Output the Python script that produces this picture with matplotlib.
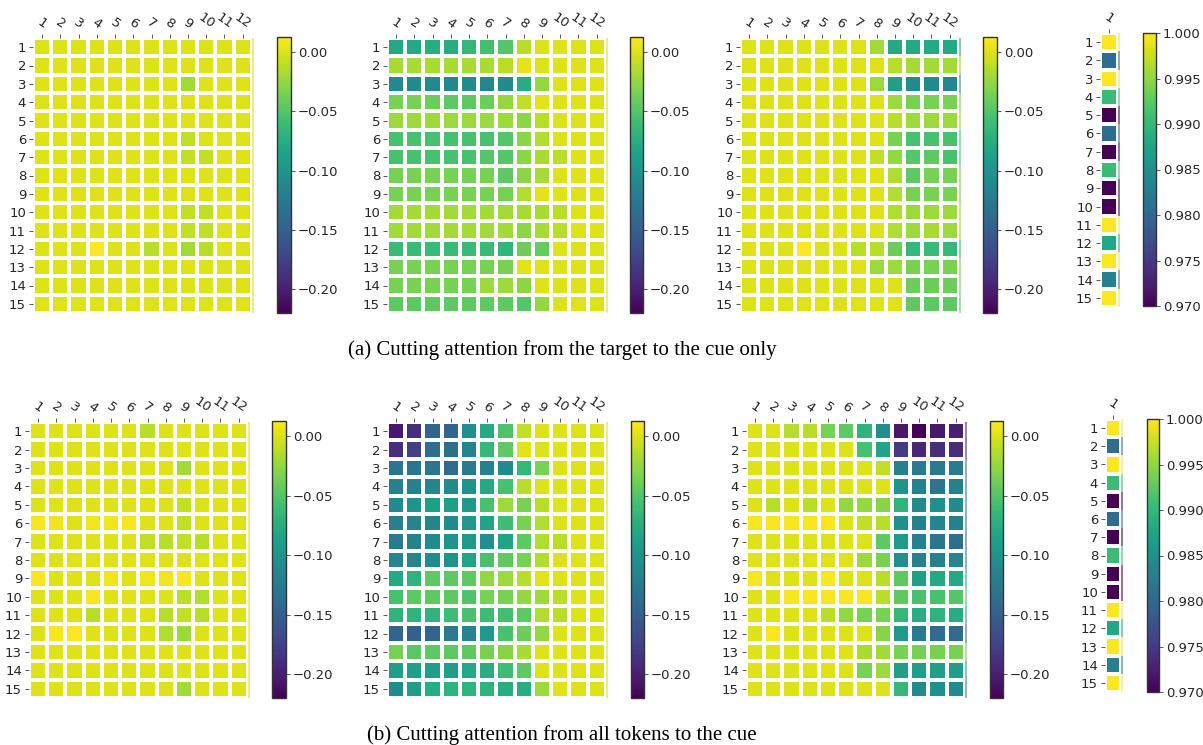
import numpy as np
import matplotlib
matplotlib.use("Agg")
from matplotlib import pyplot as plt
from matplotlib.colors import Normalize

# DATA
layers = [str(i) for i in range(1, 13)]
positions = [str(i) for i in range(1, 16)]
head_label = ["1"]

# (a) cutting attention from the target to the cue only
a_first = [
    [0.000, 0.000, 0.000, 0.000, 0.000, 0.000, 0.000, 0.000, 0.000, 0.000, 0.000, 0.000],
    [0.000, 0.000, 0.000, 0.000, 0.000, 0.000, 0.000, 0.000, 0.000, 0.000, 0.000, 0.000],
    [0.000, 0.000, 0.000, 0.000, 0.000, 0.000, 0.000, 0.000, -0.020, 0.000, 0.000, 0.000],
    [0.000, 0.000, 0.000, 0.000, 0.000, 0.000, 0.000, 0.000, 0.000, 0.000, 0.000, 0.000],
    [0.000, 0.000, 0.000, 0.000, 0.000, 0.000, 0.000, 0.000, 0.000, 0.000, 0.000, 0.000],
    [0.000, 0.000, 0.000, 0.000, 0.000, 0.000, 0.000, 0.000, -0.010, 0.000, 0.000, 0.000],
    [0.000, 0.000, 0.000, 0.000, 0.000, 0.000, 0.000, 0.000, -0.010, -0.010, 0.000, 0.000],
    [0.000, 0.000, 0.000, 0.000, 0.000, 0.000, 0.000, 0.000, 0.000, 0.000, 0.000, 0.000],
    [0.000, 0.000, 0.000, 0.000, 0.000, 0.000, 0.000, 0.000, 0.000, 0.000, 0.000, 0.000],
    [0.000, 0.000, 0.000, 0.000, 0.000, 0.000, 0.000, 0.000, -0.010, -0.010, 0.000, 0.000],
    [0.000, 0.000, 0.000, 0.000, 0.000, 0.000, 0.000, 0.000, -0.010, -0.010, 0.000, 0.000],
    [0.000, 0.000, 0.000, 0.012, 0.000, 0.000, -0.012, 0.000, -0.020, -0.012, 0.000, 0.000],
    [0.000, 0.000, 0.000, 0.000, 0.000, 0.000, 0.000, 0.000, 0.000, 0.000, 0.000, 0.000],
    [0.000, 0.000, 0.000, 0.000, 0.000, 0.000, 0.000, 0.000, 0.000, 0.000, 0.000, 0.000],
    [0.000, 0.000, 0.000, 0.000, 0.000, 0.000, 0.000, 0.000, 0.000, 0.000, 0.000, 0.000],
]
a_second = [
    [-0.080, -0.080, -0.075, -0.075, -0.065, -0.058, -0.050, -0.012, 0.000, 0.000, 0.000, 0.000],
    [-0.018, -0.018, -0.018, -0.018, -0.018, -0.018, -0.012, 0.003, 0.000, 0.000, 0.000, 0.000],
    [-0.110, -0.110, -0.110, -0.112, -0.110, -0.112, -0.110, -0.075, -0.025, 0.000, 0.000, 0.000],
    [-0.035, -0.035, -0.040, -0.045, -0.045, -0.040, -0.025, -0.010, 0.002, 0.000, 0.000, 0.000],
    [-0.022, -0.022, -0.022, -0.022, -0.022, -0.022, -0.022, -0.028, -0.012, 0.000, 0.000, 0.000],
    [-0.055, -0.055, -0.055, -0.055, -0.055, -0.055, -0.050, -0.028, -0.015, 0.000, 0.000, 0.000],
    [-0.055, -0.055, -0.055, -0.055, -0.055, -0.050, -0.050, -0.028, -0.018, -0.012, 0.000, 0.000],
    [-0.035, -0.035, -0.035, -0.035, -0.035, -0.035, -0.045, -0.028, -0.018, 0.000, 0.000, 0.000],
    [-0.035, -0.035, -0.035, -0.035, -0.035, -0.035, -0.035, -0.015, 0.002, 0.000, 0.000, 0.000],
    [-0.020, -0.020, -0.020, -0.020, -0.020, -0.020, -0.020, -0.018, -0.018, -0.012, 0.000, 0.000],
    [-0.020, -0.020, -0.020, -0.020, -0.020, -0.020, -0.020, -0.028, -0.018, -0.012, 0.000, 0.000],
    [-0.062, -0.062, -0.062, -0.062, -0.062, -0.062, -0.068, -0.040, -0.042, 0.000, 0.000, 0.000],
    [-0.035, -0.035, -0.035, -0.035, -0.035, -0.035, -0.035, 0.002, 0.000, 0.000, 0.000, 0.000],
    [-0.035, -0.035, -0.035, -0.035, -0.035, -0.022, -0.022, -0.028, 0.000, 0.000, 0.000, 0.000],
    [-0.045, -0.045, -0.045, -0.045, -0.045, -0.045, -0.045, -0.050, -0.025, 0.000, 0.000, 0.000],
]
a_third = [
    [0.000, 0.000, 0.000, 0.000, 0.000, 0.000, 0.000, -0.020, -0.080, -0.080, -0.080, -0.080],
    [0.000, 0.000, 0.000, 0.000, 0.000, 0.000, 0.000, 0.000, -0.012, -0.020, -0.020, -0.020],
    [0.000, 0.000, 0.000, 0.000, 0.000, 0.000, 0.000, -0.022, -0.090, -0.110, -0.110, -0.112],
    [0.000, 0.000, 0.000, 0.000, 0.000, 0.000, 0.000, 0.000, -0.022, -0.035, -0.035, -0.035],
    [0.000, 0.000, 0.000, 0.000, 0.000, 0.000, 0.000, 0.000, -0.012, -0.022, -0.022, -0.022],
    [0.000, 0.000, 0.000, 0.000, 0.000, 0.000, 0.000, 0.000, -0.035, -0.055, -0.055, -0.055],
    [0.000, 0.000, 0.000, 0.000, 0.000, 0.000, 0.000, -0.010, -0.025, -0.050, -0.045, -0.055],
    [0.000, 0.000, 0.000, 0.000, 0.000, 0.000, 0.000, 0.000, -0.015, -0.045, -0.035, -0.035],
    [0.000, 0.000, 0.000, 0.000, 0.000, 0.000, 0.000, 0.000, -0.015, -0.035, -0.035, -0.035],
    [0.000, 0.000, 0.000, 0.000, 0.000, 0.000, 0.000, 0.000, -0.015, -0.022, -0.022, -0.022],
    [0.000, 0.000, 0.000, 0.000, 0.000, 0.000, 0.000, 0.000, -0.015, -0.022, -0.018, -0.022],
    [0.000, 0.000, 0.000, 0.012, 0.000, 0.000, -0.012, -0.012, -0.040, -0.065, -0.062, -0.065],
    [0.000, 0.000, 0.000, 0.000, 0.000, 0.000, 0.000, -0.022, -0.022, -0.035, -0.035, -0.035],
    [0.000, 0.000, 0.000, 0.000, 0.000, 0.000, 0.000, 0.000, 0.000, -0.040, -0.040, -0.040],
    [0.000, 0.000, 0.000, 0.000, 0.000, 0.000, 0.000, 0.000, 0.000, -0.045, -0.045, -0.045],
]
a_ratio = [1.000, 0.9805, 1.000, 0.9905, 0.970, 0.9805, 0.970, 0.9905,
           0.970, 0.970, 1.000, 0.988, 1.000, 0.983, 1.000]

# (b) cutting attention from all tokens to the cue
b_first = [
    [0.000, 0.000, 0.000, 0.000, 0.000, 0.000, -0.012, 0.000, 0.000, 0.000, 0.000, 0.000],
    [0.000, 0.000, 0.000, 0.000, 0.000, 0.000, 0.000, 0.000, 0.000, 0.000, 0.000, 0.000],
    [0.000, 0.000, 0.000, 0.000, 0.000, 0.000, 0.000, 0.000, -0.020, 0.000, 0.000, 0.000],
    [0.000, 0.000, 0.000, 0.000, 0.000, 0.000, 0.000, 0.000, 0.000, 0.000, 0.000, 0.000],
    [0.000, 0.000, 0.000, 0.000, 0.000, 0.000, 0.000, 0.000, -0.010, 0.000, 0.000, 0.000],
    [0.010, 0.008, 0.000, 0.008, 0.008, 0.010, 0.000, 0.000, -0.010, 0.000, 0.000, 0.000],
    [0.000, 0.000, 0.000, 0.000, 0.000, 0.000, -0.010, -0.012, -0.010, -0.012, 0.000, 0.000],
    [0.000, 0.000, 0.000, 0.000, 0.000, 0.000, 0.000, 0.000, 0.000, 0.000, 0.000, 0.000],
    [0.010, 0.000, 0.000, 0.000, 0.008, 0.000, 0.008, 0.008, 0.010, 0.000, 0.000, 0.000],
    [0.000, 0.000, 0.000, 0.010, 0.000, 0.000, 0.000, 0.000, -0.012, -0.015, 0.000, 0.000],
    [0.000, 0.000, 0.000, -0.012, 0.000, 0.000, 0.000, -0.012, -0.010, -0.012, 0.000, 0.000],
    [0.000, 0.010, 0.012, 0.000, 0.000, 0.000, 0.000, -0.015, -0.022, 0.000, 0.000, 0.000],
    [0.000, 0.000, 0.000, 0.000, 0.000, 0.000, 0.000, 0.000, 0.000, 0.000, 0.000, 0.000],
    [0.000, 0.000, 0.000, 0.000, 0.000, 0.000, 0.000, 0.000, 0.000, 0.000, 0.000, 0.000],
    [0.000, 0.000, 0.000, 0.000, 0.000, 0.000, 0.000, 0.000, -0.020, 0.000, 0.000, 0.000],
]
b_second = [
    [-0.205, -0.190, -0.145, -0.145, -0.105, -0.080, -0.052, -0.010, 0.000, 0.000, 0.000, 0.000],
    [-0.190, -0.175, -0.135, -0.135, -0.115, -0.065, -0.045, 0.002, 0.000, 0.000, 0.000, 0.000],
    [-0.130, -0.130, -0.130, -0.140, -0.125, -0.120, -0.110, -0.065, -0.035, 0.000, 0.000, 0.000],
    [-0.120, -0.120, -0.115, -0.110, -0.100, -0.080, -0.055, -0.012, 0.000, 0.000, 0.000, 0.000],
    [-0.110, -0.100, -0.090, -0.090, -0.095, -0.055, -0.022, -0.035, -0.012, 0.000, 0.000, 0.000],
    [-0.120, -0.115, -0.115, -0.110, -0.095, -0.085, -0.060, -0.035, -0.015, 0.000, 0.000, 0.000],
    [-0.125, -0.120, -0.110, -0.100, -0.095, -0.105, -0.085, -0.045, -0.015, -0.012, 0.000, 0.000],
    [-0.115, -0.115, -0.110, -0.100, -0.085, -0.055, -0.045, -0.035, -0.015, 0.000, 0.000, 0.000],
    [-0.080, -0.070, -0.045, -0.045, -0.045, -0.025, -0.022, -0.012, 0.002, 0.000, 0.000, 0.000],
    [-0.055, -0.045, -0.045, -0.045, -0.052, -0.035, -0.035, -0.025, -0.022, -0.012, 0.000, 0.000],
    [-0.070, -0.070, -0.070, -0.060, -0.055, -0.060, -0.058, -0.045, -0.015, -0.012, 0.000, 0.000],
    [-0.145, -0.150, -0.145, -0.125, -0.115, -0.095, -0.055, -0.040, -0.025, 0.000, 0.000, 0.000],
    [-0.035, -0.048, -0.045, -0.045, -0.045, -0.035, -0.030, -0.018, 0.000, 0.000, 0.000, 0.000],
    [-0.090, -0.090, -0.090, -0.090, -0.080, -0.075, -0.060, -0.045, 0.000, 0.000, 0.000, 0.000],
    [-0.110, -0.090, -0.075, -0.070, -0.070, -0.070, -0.075, -0.075, -0.022, 0.000, 0.000, 0.000],
]
b_third = [
    [0.000, 0.000, -0.012, -0.012, -0.035, -0.045, -0.070, -0.105, -0.205, -0.220, -0.205, -0.200],
    [0.000, 0.000, 0.000, 0.000, 0.000, 0.000, -0.055, -0.085, -0.180, -0.195, -0.190, -0.190],
    [0.000, 0.000, 0.000, 0.000, 0.000, 0.000, 0.000, -0.010, -0.120, -0.125, -0.125, -0.125],
    [0.000, 0.000, 0.000, 0.000, 0.000, 0.000, 0.000, 0.000, -0.100, -0.120, -0.130, -0.120],
    [0.000, -0.012, 0.000, -0.012, 0.000, -0.025, -0.025, -0.030, -0.070, -0.110, -0.105, -0.110],
    [0.010, 0.010, 0.010, 0.010, 0.010, 0.000, -0.010, -0.012, -0.105, -0.120, -0.115, -0.120],
    [0.000, 0.000, 0.000, 0.000, 0.000, 0.000, 0.000, -0.045, -0.095, -0.120, -0.130, -0.135],
    [0.000, 0.000, 0.000, 0.000, 0.000, 0.000, -0.022, -0.035, -0.105, -0.120, -0.120, -0.115],
    [0.010, 0.000, 0.000, 0.000, 0.010, 0.000, 0.000, -0.012, -0.045, -0.090, -0.080, -0.080],
    [0.000, 0.000, 0.010, 0.010, 0.010, 0.010, 0.010, -0.012, -0.045, -0.055, -0.055, -0.050],
    [0.000, 0.000, 0.000, 0.000, -0.012, -0.025, -0.035, -0.035, -0.065, -0.075, -0.070, -0.075],
    [0.000, 0.010, 0.000, 0.000, 0.000, 0.000, 0.000, -0.030, -0.095, -0.125, -0.140, -0.140],
    [0.000, 0.000, 0.000, 0.000, 0.000, 0.000, -0.018, -0.020, -0.035, -0.035, -0.035, -0.035],
    [0.000, 0.000, 0.000, 0.000, 0.000, 0.000, -0.035, -0.022, -0.090, -0.090, -0.090, -0.090],
    [0.000, 0.000, 0.000, 0.000, 0.000, 0.000, 0.000, 0.000, -0.065, -0.110, -0.105, -0.110],
]
b_ratio = [1.000, 0.9805, 1.000, 0.9905, 0.970, 0.9805, 0.970, 0.9905,
           0.970, 0.970, 1.000, 0.988, 1.000, 0.983, 1.000]

captions = ["(a) Cutting attention from the target to the cue only",
            "(b) Cutting attention from all tokens to the cue"]

DIFF_RANGE = (-0.22, 0.0126)
RATIO_RANGE = (0.970, 1.000)
TEXT = "#262626"

W, H = 1203, 745


def px_axes(fig, x0, y0, x1, y1):
    # pixel box (top-left origin) -> figure axes
    return fig.add_axes([x0 / W, 1 - y1 / H, (x1 - x0) / W, (y1 - y0) / H])


def draw_heatmap(fig, box, cbox, values, xlabels, vrange):
    data = np.array(values, dtype=float)
    if data.ndim == 1:
        data = data[:, None]
    nrow, ncol = data.shape
    norm = Normalize(*vrange)
    ax = px_axes(fig, *box)
    mesh = ax.pcolormesh(np.arange(ncol + 1), np.arange(nrow + 1), data,
                         cmap="viridis", norm=norm, edgecolor="white",
                         linewidth=1.6)
    # thin sliver of the last column peeking past the right edge
    strip = 0.12
    ax.pcolormesh([ncol, ncol + strip], np.arange(nrow + 1), data[:, -1:],
                  cmap="viridis", norm=norm, alpha=0.55, linewidth=0)
    ax.set_xlim(0, ncol + strip)
    ax.set_ylim(nrow, 0)
    for s in ax.spines.values():
        s.set_visible(False)
    ax.xaxis.tick_top()
    ax.set_xticks(np.arange(ncol) + 0.5)
    ax.set_xticklabels(xlabels, rotation=-35, ha="center", fontsize=9.5,
                       color=TEXT)
    ax.set_yticks(np.arange(nrow) + 0.5)
    ax.set_yticklabels(positions, fontsize=9.5, color=TEXT)
    ax.tick_params(length=3, width=0.7, color="#555555", pad=2)

    cax = px_axes(fig, *cbox)
    cb = fig.colorbar(mesh, cax=cax)
    cb.outline.set_edgecolor("#333333")
    cb.outline.set_linewidth(1.0)
    cb.ax.tick_params(labelsize=9.5, length=3, width=0.7, color="#555555",
                      labelcolor=TEXT, pad=2)
    if vrange == DIFF_RANGE:
        cb.set_ticks([0.0, -0.05, -0.10, -0.15, -0.20])
    else:
        cb.set_ticks([0.970, 0.975, 0.980, 0.985, 0.990, 0.995, 1.000])
    return ax


fig = plt.figure(figsize=(W / 100, H / 100), dpi=100)

# row (a)
draw_heatmap(fig, (33, 38, 254, 313), (277, 37, 291, 313), a_first, layers, DIFF_RANGE)
draw_heatmap(fig, (387, 38, 608, 313), (630, 37, 643, 313), a_second, layers, DIFF_RANGE)
draw_heatmap(fig, (740, 38, 961, 313), (983, 37, 997, 313), a_third, layers, DIFF_RANGE)
draw_heatmap(fig, (1100, 33, 1120, 307), (1143, 33, 1156, 306), a_ratio, head_label, RATIO_RANGE)

# row (b)
draw_heatmap(fig, (29, 422, 250, 698), (272, 421, 286, 698), b_first, layers, DIFF_RANGE)
draw_heatmap(fig, (387, 422, 608, 698), (631, 421, 644, 698), b_second, layers, DIFF_RANGE)
draw_heatmap(fig, (746, 422, 967, 698), (990, 421, 1003, 698), b_third, layers, DIFF_RANGE)
draw_heatmap(fig, (1105, 419, 1123, 692), (1147, 419, 1159, 692), b_ratio, head_label, RATIO_RANGE)

fig.text(562 / W, 1 - 350 / H, captions[0], ha="center", va="center",
         family="Liberation Serif", fontsize=15, color="black")
fig.text(562 / W, 1 - 735 / H, captions[1], ha="center", va="center",
         family="Liberation Serif", fontsize=15, color="black")

fig.savefig("out.png", dpi=100)
